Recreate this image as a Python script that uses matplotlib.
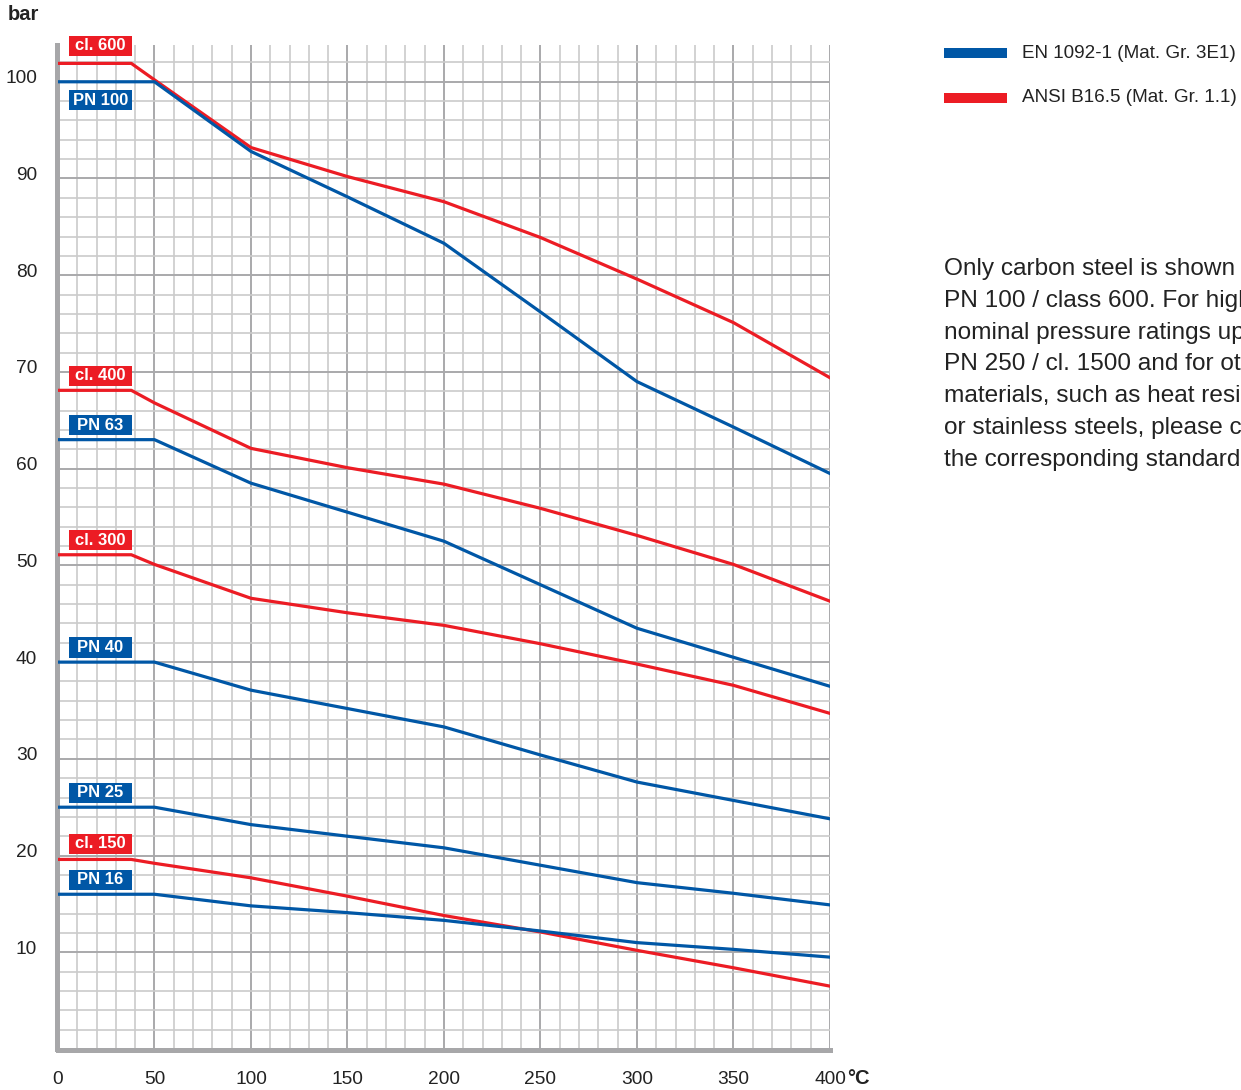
import numpy as np
import matplotlib
matplotlib.use("Agg")
import matplotlib.pyplot as plt
from matplotlib.patches import Rectangle
from matplotlib.transforms import ScaledTranslation

plt.rcParams['font.family'] = ['Liberation Sans', 'DejaVu Sans']

# ---- data (bar vs. °C)
temps_ansi = [0, 38, 50, 100, 150, 200, 250, 300, 350, 400]
cl600 = [101.9, 101.9, 100.2, 93.2, 90.2, 87.6, 83.9, 79.6, 75.1, 69.4]
cl400 = [68.1, 68.1, 66.8, 62.1, 60.1, 58.4, 55.9, 53.1, 50.1, 46.3]
cl300 = [51.1, 51.1, 50.1, 46.6, 45.1, 43.8, 41.9, 39.8, 37.6, 34.7]
cl150 = [19.6, 19.6, 19.2, 17.7, 15.8, 13.8, 12.1, 10.2, 8.4, 6.5]

temps_en = [0, 50, 100, 150, 200, 250, 300, 350, 400]
pn100 = [100, 100, 92.8, 88.1, 83.3, 76.2, 69.0, 64.3, 59.5]
pn63 = [63, 63, 58.5, 55.5, 52.5, 48.0, 43.5, 40.5, 37.5]
pn40 = [40, 40, 37.1, 35.2, 33.3, 30.4, 27.6, 25.7, 23.8]
pn25 = [25, 25, 23.2, 22.0, 20.8, 19.0, 17.2, 16.1, 14.9]
pn16 = [16, 16, 14.8, 14.1, 13.3, 12.2, 11.0, 10.3, 9.5]

xticks = [0, 50, 100, 150, 200, 250, 300, 350, 400]
yticks = [10, 20, 30, 40, 50, 60, 70, 80, 90, 100]

blue = '#0057a6'
red = '#ec1c24'
txt = '#222222'

# (name, temps, values, colour, label offset)
series = [
    ('cl. 600', temps_ansi, cl600, red, 1.8),
    ('PN 100', temps_en, pn100, blue, -1.9),
    ('cl. 400', temps_ansi, cl400, red, 1.5),
    ('PN 63', temps_en, pn63, blue, 1.5),
    ('cl. 300', temps_ansi, cl300, red, 1.5),
    ('PN 40', temps_en, pn40, blue, 1.5),
    ('PN 25', temps_en, pn25, blue, 1.5),
    ('cl. 150', temps_ansi, cl150, red, 1.6),
    ('PN 16', temps_en, pn16, blue, 1.5),
]

fig = plt.figure(figsize=(12.41, 10.90), dpi=100)
ax = fig.add_axes([0.0467, 0.0376, 0.6221, 0.9211])
ax.set_xlim(0, 400)
ax.set_ylim(0, 103.8)

for s in ['top', 'right']:
    ax.spines[s].set_visible(False)
for s in ['left', 'bottom']:
    ax.spines[s].set_color('#a7a7a9')
    ax.spines[s].set_linewidth(3.6)
    ax.spines[s].set_position(('outward', 1))

# grid
ax.set_xticks(xticks)
ax.set_xticks(np.arange(0, 401, 10), minor=True)
ax.set_yticks(yticks)
ax.set_yticks(np.arange(0, 103, 2), minor=True)
ax.grid(which='minor', color='#cbcbcb', lw=1.2, zorder=0)
ax.grid(which='major', color='#a9a9ab', lw=1.4, zorder=0)
ax.set_axisbelow(True)
ax.tick_params(which='both', length=0)
ax.tick_params(axis='x', pad=14.5, labelsize=13.8, labelcolor=txt)
ax.tick_params(axis='y', pad=14, labelsize=13.8, labelcolor=txt)
ax.set_xticklabels([str(t) for t in xticks])
ax.set_yticklabels([str(t) for t in yticks])
shift = ScaledTranslation(0, 0.05, fig.dpi_scale_trans)
for tick in ax.yaxis.get_major_ticks():
    tick.label1.set_transform(tick.label1.get_transform() + shift)

# curves and labels
for name, t, v, col, off in series:
    ax.plot(t, v, color=col, lw=2.3, zorder=3, solid_joinstyle='round')
    yc = v[0] + off
    ax.add_patch(Rectangle((5.6, yc - 1.05), 32.6, 2.1, facecolor=col,
                           edgecolor='none', zorder=4, clip_on=False))
    ax.text(21.9, yc, name, color='white', fontsize=12, fontweight='bold',
            ha='center', va='center', zorder=5, clip_on=False)

# axis units
fig.text(8 / 1241, 1 - 14 / 1090, 'bar', fontsize=14.5, fontweight='bold',
         color=txt, ha='left', va='center')
fig.text(847 / 1241, 1 - 1079 / 1090, '°C', fontsize=14.5, fontweight='bold',
         color=txt, ha='left', va='center')

# legend
fig.patches.append(Rectangle((944 / 1241, 1 - 58 / 1090), 63 / 1241, 10 / 1090,
                             transform=fig.transFigure, facecolor=blue, edgecolor='none'))
fig.patches.append(Rectangle((944 / 1241, 1 - 103 / 1090), 63 / 1241, 10 / 1090,
                             transform=fig.transFigure, facecolor=red, edgecolor='none'))
fig.text(1022 / 1241, 1 - 53 / 1090, 'EN 1092-1 (Mat. Gr. 3E1)', fontsize=13.6,
         color=txt, ha='left', va='center')
fig.text(1022 / 1241, 1 - 98 / 1090, 'ANSI B16.5 (Mat. Gr. 1.1)', fontsize=13.6,
         color=txt, ha='left', va='center')

note = ("Only carbon steel is shown up to\n"
        "PN 100 / class 600. For higher\n"
        "nominal pressure ratings up to\n"
        "PN 250 / cl. 1500 and for other\n"
        "materials, such as heat resistant\n"
        "or stainless steels, please consult\n"
        "the corresponding standards.")
fig.text(944 / 1241, 1 - 258 / 1090, note, fontsize=17.6, color=txt,
         ha='left', va='top', linespacing=1.575)

fig.savefig('out.png', dpi=100)
